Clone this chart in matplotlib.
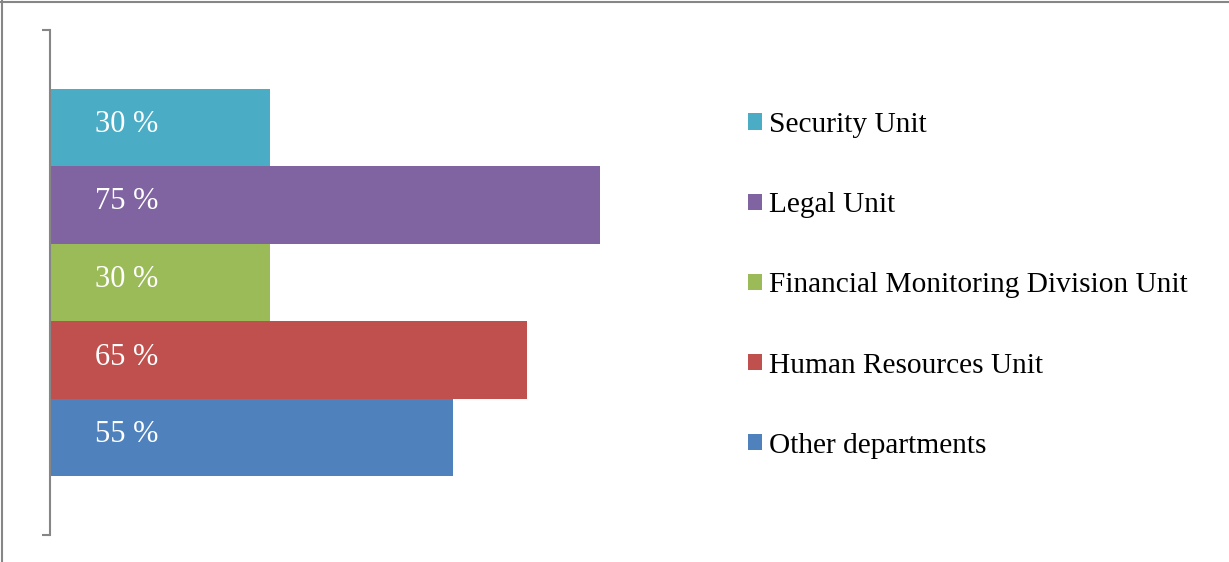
import matplotlib
matplotlib.use("Agg")
import matplotlib.pyplot as plt
from matplotlib.lines import Line2D
from matplotlib.patches import Patch
import numpy as np

plt.rcParams['font.family'] = ['Liberation Serif', 'DejaVu Serif']

# series, listed top to bottom as drawn
units = ['Security Unit', 'Legal Unit', 'Financial Monitoring Division Unit',
         'Human Resources Unit', 'Other departments']
shares = [30, 75, 30, 65, 55]
colors = ['#4BACC6', '#8064A2', '#9BBB59', '#C0504D', '#4F81BD']

W, H = 1229, 562
fig = plt.figure(figsize=(W / 100, H / 100), dpi=100)
ax = fig.add_axes([50 / W, (H - 535) / H, 660 / W, 505 / H])

n = len(units)
h = 0.768 / n
offsets = (np.arange(n)[::-1] - (n - 1) / 2) * h
for y, v, c in zip(offsets, shares, colors):
    ax.barh(y, v, height=h, color=c, linewidth=0)
    ax.annotate(f'{v} %', xy=(0, y), xytext=(45, 3), textcoords='offset pixels',
                ha='left', va='center', color='white', fontsize=22)

ax.set_xlim(0, 90)
ax.set_ylim(-0.5, 0.5)
for s in ['top', 'right', 'bottom']:
    ax.spines[s].set_visible(False)
ax.spines['left'].set_color('#868686')
ax.spines['left'].set_linewidth(1.5)
ax.set_xticks([])
ax.set_yticks([-0.5, 0.5])
ax.set_yticklabels([])
ax.tick_params(axis='y', length=6, width=1.5, color='#868686')

handles = [Patch(facecolor=c, edgecolor='none') for c in colors]
fig.legend(handles, units, loc='upper left', bbox_to_anchor=(748 / W, 1 - 112 / H),
           frameon=False, fontsize=21.2, handlelength=0.48, handleheight=0.48,
           handletextpad=0.24, labelspacing=1.84, borderaxespad=0, borderpad=0)

# outer chart border
fig.add_artist(Line2D([2 / W, 2 / W], [0, 1], color='#868686', lw=1.5))
fig.add_artist(Line2D([0, 1], [1 - 1.5 / H, 1 - 1.5 / H], color='#868686', lw=1.5))

fig.savefig('out.png', dpi=100)
